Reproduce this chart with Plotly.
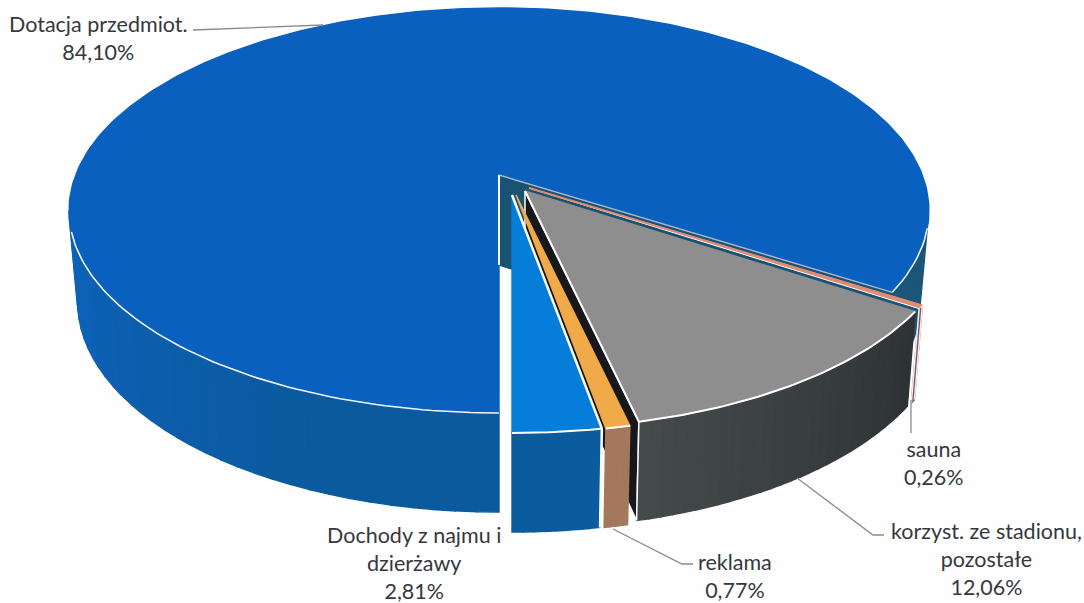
import numpy as np
import plotly.graph_objects as go

# --- data ---
categories = ["Dochody z najmu i dzierżawy", "reklama", "korzyst. ze stadionu, pozostałe", "sauna", "Dotacja przedmiot."]
values = [2.81, 0.77, 12.06, 0.26, 84.10]
value_labels = ["2,81%", "0,77%", "12,06%", "0,26%", "84,10%"]
label_lines = ["Dochody z najmu i<br>dzierżawy", "reklama", "korzyst. ze stadionu,<br>pozostałe", "sauna", "Dotacja przedmiot."]

# --- style / layout ---
W, H = 1084, 603
CX, CY = 499, 175            # projected centre of the disc
A, B, P = 423.3, 196.3, 0.1753  # perspective projection of the unit circle
DEPTH, SX, SY = 90.0, 0.98, 1.038
offsets = [(13, 20), (17, 20), (26, 16), (30, 13), (0, 0)]
top_colors = ["#067dd8", "#f0aa4a", "#8e8e8e", "#e08a70", "#0a60be"]
side_colors = ["#0b5c9e", "#a4785c", "#3c4244", "#7a5560", "#0b5ca6"]
cut_colors = ["#0b5c9e", "#6f5240", "#17181c", "#7a5560", "#1a5274"]
label_pos = [(414, 563), (735, 576), (986, 559), (934, 463), (98, 38)]
leaders = [None,
           ([613, 682, 693], [529, 564, 564]),
           ([797, 873, 884], [478, 535, 535]),
           ([911, 911], [400, 433]),
           ([193, 323], [30, 25])]


def top(theta, off):
    u, v = np.cos(theta), np.sin(theta)
    w = 1 + P * v
    return CX + off[0] + A * u / w, CY + off[1] - B * v / w


def bottom(theta, off):
    u, v = np.cos(theta), np.sin(theta)
    w = 1 + P * v
    return CX + off[0] + SX * A * u / w, CY + off[1] + DEPTH - SY * B * v / w


def lerp_hex(c1, c2, t):
    a = [int(c1[i:i + 2], 16) for i in (1, 3, 5)]
    b = [int(c2[i:i + 2], 16) for i in (1, 3, 5)]
    return "rgb(%d,%d,%d)" % tuple(round(x + (y - x) * t) for x, y in zip(a, b))


fig = go.Figure()


def poly(xs, ys, fill, line=None, width=0):
    fig.add_trace(go.Scatter(x=list(xs), y=list(ys), mode="lines", fill="toself", fillcolor=fill,
                             line=dict(color=line or fill, width=width if line else 1.4),
                             hoverinfo="skip", showlegend=False))


def stroke(xs, ys, color, width):
    fig.add_trace(go.Scatter(x=list(xs), y=list(ys), mode="lines", line=dict(color=color, width=width),
                             hoverinfo="skip", showlegend=False))


def wall(t0, t1, off, color_fn, n):
    edges = np.linspace(t0, t1, n + 1)
    for a, b in zip(edges[:-1], edges[1:]):
        xa, ya = top(np.array([a, b]), off)
        xb, yb = bottom(np.array([b, a]), off)
        poly(np.r_[xa, xb, xa[0]], np.r_[ya, yb, ya[0]], color_fn((a + b) / 2))


def cut_face(t, off, color, line=None, width=0):
    tx, ty = top(t, off)
    bx, by = bottom(t, off)
    ax, ay = CX + off[0], CY + off[1]
    poly([ax, tx, bx, ax, ax], [ay, ty, by, ay + DEPTH, ay], color, line, width)


def top_face(t0, t1, off, color, line=None, width=0):
    th = np.linspace(t0, t1, max(3, int(abs(t1 - t0) * 60)))
    x, y = top(th, off)
    ax, ay = CX + off[0], CY + off[1]
    poly(np.r_[ax, x, ax], np.r_[ay, y, ay], color, line, width)


# slice boundaries: start at 6 o'clock, running anticlockwise
edges = np.radians(-90 + np.cumsum([0] + values) * 3.6)
spans = list(zip(edges[:-1], edges[1:]))
DOCH, REK, KOR, SAU, DOT = range(5)

# Dotacja: outer wall, cut face, top
t0, t1 = spans[DOT]
wall(t0, np.radians(-15), offsets[DOT], lambda t: "#1b5578", 4)
wall(np.radians(190), t1, offsets[DOT],
     lambda t: lerp_hex("#0d63bd", "#0b5a9e", min(1, (t - np.radians(190)) / np.radians(60))), 32)
cut_face(t0, offsets[DOT], cut_colors[DOT])
top_face(t0, t1, offsets[DOT], top_colors[DOT])
ax, ay = top(t0, offsets[DOT])
stroke([CX, ax], [CY, ay], "#a9b7c6", 1.5)
stroke([CX, CX], [CY, CY + DEPTH], "#ffffff", 2)
th = np.linspace(np.radians(196), np.radians(270), 70)
stroke(*top(th, offsets[DOT]), "#f2f6fb", 1.6)
th = np.linspace(t0, np.radians(-15), 12)
stroke(*top(th, offsets[DOT]), "#e8eef5", 1.6)

# sauna
t0, t1 = spans[SAU]
off = offsets[SAU]
wall(t0, t1, off, lambda t: side_colors[SAU], 1)
x0, y0 = top(t1, off)
x1, y1 = bottom(t1, off)
stroke([x0, x1], [y0, y1], "#f4f0f0", 1.5)
x0, y0 = top(t0, off)
x1, y1 = bottom(t0, off)
stroke([x0, x1], [y0, y1], "#f4f0f0", 1.5)
top_face(t0, t1, off, top_colors[SAU], "#ffffff", 1)
xa, ya = top(t1, off)
stroke([CX + off[0], xa], [CY + off[1], ya], top_colors[SAU], 2)

# korzyst.
t0, t1 = spans[KOR]
off = offsets[KOR]
cut_face(t0, off, cut_colors[KOR], "#ffffff", 1.5)
wall(t0, t1, off, lambda t: lerp_hex("#454a4b", "#2d3335", (t - t0) / (t1 - t0)), 30)
top_face(t0, t1, off, top_colors[KOR])
th = np.linspace(t0, t1, 60)
stroke(*top(th, off), "#ffffff", 2)
xa, ya = top(t0, off)
stroke([CX + off[0], xa], [CY + off[1], ya], "#ffffff", 2)
xa, ya = bottom(t0, off)
xb, yb = top(t0, off)
stroke([xb, xa], [yb, ya], "#ffffff", 1.5)

# reklama
t0, t1 = spans[REK]
off = offsets[REK]
wall(t0, t1, off, lambda t: side_colors[REK], 4)
top_face(t0, t1, off, top_colors[REK])
stroke(*top(np.linspace(t0, t1, 8), off), "#ffffff", 2)

# dochody
t0, t1 = spans[DOCH]
off = offsets[DOCH]
wall(t0, t1, off, lambda t: side_colors[DOCH], 8)
top_face(t0, t1, off, top_colors[DOCH])
stroke(*top(np.linspace(t0, t1, 16), off), "#ffffff", 2)
xa, ya = top(t1, off)
stroke([CX + off[0], xa], [CY + off[1], ya], "#ffffff", 2.5)
xb, yb = bottom(t1, off)
stroke([xa, xb], [ya, yb], "#ffffff", 2.5)

# leader lines
for seg in leaders:
    if seg:
        stroke(seg[0], seg[1], "#8a8a8a", 1.3)

# labels
annotations = [dict(x=p[0], y=p[1], xref="x", yref="y", showarrow=False, align="center",
                    text=f"{t}<br>{v}", font=dict(family="Lato", size=21.5, color="#35383c"))
               for t, v, p in zip(label_lines, value_labels, label_pos)]

fig.update_layout(
    width=W, height=H, margin=dict(l=0, r=0, t=0, b=0),
    paper_bgcolor="#fefefe", plot_bgcolor="#fefefe", showlegend=False,
    xaxis=dict(range=[0, W], visible=False, fixedrange=True),
    yaxis=dict(range=[H, 0], visible=False, fixedrange=True),
    annotations=annotations,
)
fig.write_html("out.html", config=dict(displayModeBar=False),
               post_script="document.body.style.margin='0';document.body.style.overflow='hidden';")
